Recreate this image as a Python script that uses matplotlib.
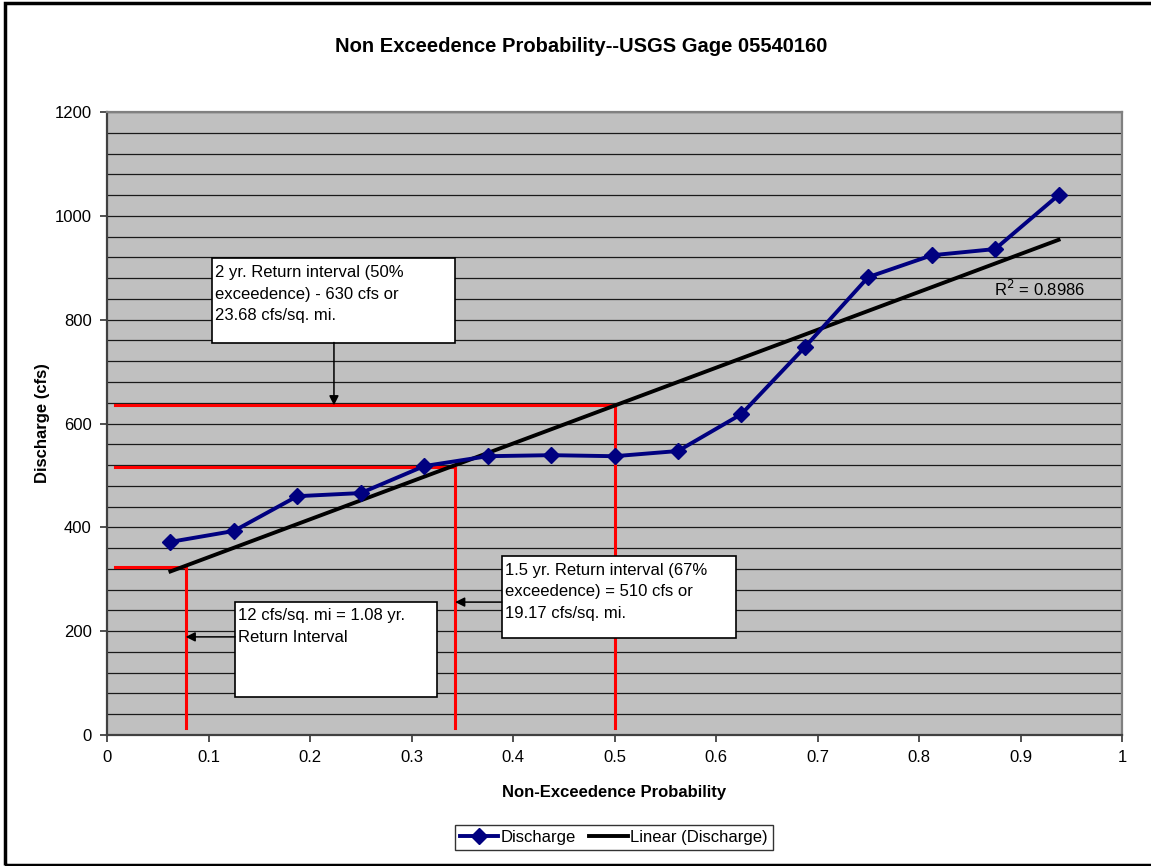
import numpy as np
import matplotlib.pyplot as plt
from matplotlib.patches import Rectangle
from matplotlib.ticker import MultipleLocator

plt.rcParams['font.family'] = ['Liberation Sans', 'DejaVu Sans']

# Non-exceedence probability (rank / (n + 1)) and annual peak discharge
probability = [0.0625, 0.125, 0.1875, 0.25, 0.3125, 0.375, 0.4375, 0.5,
               0.5625, 0.625, 0.6875, 0.75, 0.8125, 0.875, 0.9375]
discharge = [372, 393, 460, 466, 518, 537, 539, 537,
             547, 618, 747, 882, 924, 936, 1040]
r_squared = 0.8986

# Return-interval guide lines: (probability, discharge)
guide_prob = [0.5, 0.343, 0.0775]
guide_q = [635, 517, 324]

box_texts = [
    "2 yr. Return interval (50%\nexceedence) - 630 cfs or\n23.68 cfs/sq. mi.",
    "12 cfs/sq. mi = 1.08 yr.\nReturn Interval",
    "1.5 yr. Return interval (67%\nexceedence) = 510 cfs or\n19.17 cfs/sq. mi.",
]

fig = plt.figure(figsize=(11.51, 8.66), dpi=100)
ax = fig.add_axes([107 / 1151, 131 / 866, 1015 / 1151, 623 / 866])
ax.set_facecolor('#C0C0C0')

# gridlines every 40 cfs
ax.set_xlim(0, 1)
ax.set_ylim(0, 1200)
ax.xaxis.set_major_locator(MultipleLocator(0.1))
ax.yaxis.set_major_locator(MultipleLocator(200))
ax.yaxis.set_minor_locator(MultipleLocator(40))
ax.grid(True, axis='y', which='both', color='#1a1a1a', linewidth=0.9)
ax.set_axisbelow(True)
ax.xaxis.set_major_formatter(plt.FuncFormatter(lambda v, p: '0' if v == 0 else f'{v:g}'))
ax.tick_params(axis='both', which='major', labelsize=12, length=5, width=1.2,
               color='#333333', pad=6)
ax.tick_params(axis='y', which='minor', length=0)
for side in ['left', 'bottom']:
    ax.spines[side].set_color('#404040')
    ax.spines[side].set_linewidth(1.6)
for side in ['top', 'right']:
    ax.spines[side].set_color('#808080')
    ax.spines[side].set_linewidth(1.6)

# red guide lines
for p, q in zip(guide_prob, guide_q):
    ax.plot([0.008, p, p], [q, q, 13], color='#FF0000', linewidth=2.2, zorder=3)

# linear trendline
x = np.array(probability)
y = np.array(discharge)
slope, intercept = np.polyfit(x, y, 1)
ax.plot(x[[0, -1]], slope * x[[0, -1]] + intercept, color='black', linewidth=2.8,
        label='Linear (Discharge)', zorder=4)

ax.plot(probability, discharge, color='#000080', linewidth=2.8, marker='D',
        markersize=8.5, label='Discharge', zorder=5)

ax.text(0.874, 860, f"R$^2$ = {r_squared:.4f}", fontsize=12, va='center', zorder=6)

# annotation boxes (x0, x1, y0, y1) and arrows
boxes = [(0.1034, 0.3429, 756, 918), (0.1261, 0.3251, 73, 257), (0.389, 0.6197, 187, 345)]
arrows = [((0.2236, 756), (0.2236, guide_q[0])),
          ((0.1261, 189), (guide_prob[2], 189)),
          ((0.389, 256), (guide_prob[1], 256))]
for (x0, x1, y0, y1), txt in zip(boxes, box_texts):
    ax.add_patch(Rectangle((x0, y0), x1 - x0, y1 - y0, facecolor='white',
                           edgecolor='black', linewidth=1.2, zorder=7))
    ax.text(x0 + 0.003, y1 - 13, txt, fontsize=12, va='top', ha='left',
            linespacing=1.55, zorder=8)
for start, end in arrows:
    ax.annotate('', xy=end, xytext=start, zorder=8,
                arrowprops=dict(arrowstyle='-|>', color='black', lw=1.1,
                                mutation_scale=14, shrinkA=0, shrinkB=0))

fig.text(581 / 1151, 1 - 47 / 866, 'Non Exceedence Probability--USGS Gage 05540160',
         fontsize=14.5, fontweight='bold', ha='center', va='center')
ax.set_xlabel('Non-Exceedence Probability', fontsize=12, fontweight='bold', labelpad=14)
ax.set_ylabel('Discharge (cfs)', fontsize=12, fontweight='bold', labelpad=3)

handles, labels = ax.get_legend_handles_labels()
leg = fig.legend(handles[::-1], labels[::-1], loc='center', ncol=2,
                 bbox_to_anchor=(614 / 1151, 1 - 837.5 / 866), fontsize=12,
                 frameon=True, fancybox=False, edgecolor='black', handlelength=2.3,
                 handletextpad=0.15, columnspacing=0.8, borderpad=0.3,
                 borderaxespad=0)
leg.get_frame().set_linewidth(1.0)

# chart-area border
fig.patches.append(Rectangle((5 / 1151, 1 / 866), 1.1, 862 / 866, transform=fig.transFigure,
                             fill=False, edgecolor='black', linewidth=2.5))

fig.savefig('out.png', dpi=100)
